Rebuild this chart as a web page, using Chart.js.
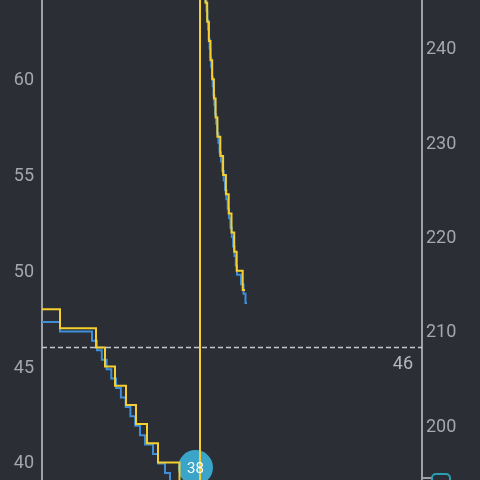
<!DOCTYPE html>
<html><head><meta charset="utf-8">
<script src="https://cdn.jsdelivr.net/npm/chart.js@4.4.1/dist/chart.umd.min.js"></script>
<style>
html,body{margin:0;padding:0;background:#2b2e34;width:480px;height:480px;overflow:hidden}
#wrap{position:relative;width:480px;height:480px}
canvas{display:block}
</style></head><body><div id="wrap"><canvas id="c" width="480" height="480"></canvas></div>
<script>
// time (x) of each level change, and the level that starts there
const yellowTime  = [0, 18, 54, 63, 73, 84, 94, 105, 116, 137.5, 148, 158, 161, 163.5, 165.2, 166.9, 168.5, 170.2, 171.9, 173.6, 175.4, 178.3, 181.1, 183.9, 186.7, 189.5, 192.2, 194.7, 200.7, 203];
const yellowValue = [48, 47, 46, 45, 44, 43, 42, 41, 40, 39, 38, 66, 65, 64, 63, 62, 61, 60, 59, 58, 57, 56, 55, 54, 53, 52, 51, 50, 49, 49];

const blueTime  = [0, 18, 50, 55, 59.8, 64.6, 69.3, 74.1, 78.9, 83.7, 88.4, 93.2, 98, 103, 111, 116, 123, 128, 134, 141, 148,
                   158, 161, 162.5, 163.6, 164.5, 165.3, 166, 166.8, 167.6, 168.4, 169.2, 170, 170.7, 171.6, 172.4, 173.2, 174.2, 175.2,
                   176.4, 177.6, 179, 180.3, 181.7, 183, 184.4, 185.7, 187.1, 188.4, 189.8, 191.1, 192.5, 193.8, 195, 199, 201.5, 203.5, 205];
const blueValue = [211, 210, 209, 208, 207, 206, 205, 204, 203, 202, 201, 200, 199, 198, 197, 196, 195, 194, 193, 192, 191,
                   248, 247, 246, 245, 244, 243, 242, 241, 240, 239, 238, 237, 236, 235, 234, 233, 232, 231,
                   230, 229, 228, 227, 226, 225, 224, 223, 222, 221, 220, 219, 218, 217, 216, 215, 214, 213, 213];

const leftTicks  = [40, 45, 50, 55, 60];
const rightTicks = [200, 210, 220, 230, 240];
const thresholdValue = 46;
const cursorTime = 153.5;
const timeRange  = [0, 380];
const leftRange  = [39.08, 64.14];
const rightRange = [194.25, 245.13];

function cursorValue() {
  let v = yellowValue[0];
  for (let i = 0; i < yellowTime.length; i++) if (yellowTime[i] <= cursorTime) v = yellowValue[i];
  return v;
}

const overlay = {
  id: 'overlay',
  beforeDatasetsDraw(chart) {
    const {ctx, chartArea, scales} = chart;
    const cx = scales.x.getPixelForValue(cursorTime);
    const cy = chartArea.bottom - 12.5;
    ctx.save();
    ctx.fillStyle = '#3aa5c8';
    ctx.beginPath(); ctx.arc(cx, cy, 17.5, 0, Math.PI * 2); ctx.fill();
    ctx.restore();
  },
  afterDatasetsDraw(chart) {
    const {ctx, chartArea, scales} = chart;
    ctx.save();
    const ty = scales.yL.getPixelForValue(thresholdValue);
    ctx.font = '18px Roboto';
    ctx.fillStyle = '#b4b7bc';
    ctx.textAlign = 'right';
    ctx.textBaseline = 'middle';
    ctx.fillText(String(thresholdValue), chartArea.right - 9, ty + 17.5);

    const cx = scales.x.getPixelForValue(cursorTime);
    const cy = chartArea.bottom - 12.5;
    ctx.font = '15px Roboto';
    ctx.fillStyle = '#ffffff';
    ctx.textAlign = 'center';
    ctx.fillText(String(cursorValue()), cx, cy + 2);

    // right-axis badge, cut by the bottom edge
    ctx.strokeStyle = '#9ea2a8';
    ctx.lineWidth = 2;
    ctx.beginPath(); ctx.moveTo(chartArea.right, chartArea.bottom - 2); ctx.lineTo(chartArea.right + 10, chartArea.bottom - 2); ctx.stroke();
    ctx.strokeStyle = '#2a9fb3';
    ctx.fillStyle = '#2b2e34';
    ctx.beginPath();
    ctx.roundRect(chartArea.right + 10, chartArea.bottom - 6, 18, 20, 4);
    ctx.fill(); ctx.stroke();
    ctx.restore();
  }
};

const axisFont = {family: 'Roboto', size: 18};

new Chart(document.getElementById('c'), {
  type: 'line',
  data: {
    datasets: [
      {data: yellowTime.map((t, i) => ({x: t, y: yellowValue[i]})), yAxisID: 'yL',
       borderColor: '#f4cf2f', borderWidth: 2, stepped: true, pointRadius: 0, fill: false},
      {data: blueTime.map((t, i) => ({x: t, y: blueValue[i]})), yAxisID: 'yR',
       borderColor: '#3f8fd8', borderWidth: 2, stepped: true, pointRadius: 0, fill: false},
      {data: [{x: timeRange[0], y: thresholdValue}, {x: timeRange[1], y: thresholdValue}], yAxisID: 'yL',
       borderColor: '#c3c6cb', borderWidth: 1.5, borderDash: [5, 3], pointRadius: 0, fill: false}
    ]
  },
  options: {
    responsive: false, animation: false, events: [],
    layout: {padding: 0},
    plugins: {legend: {display: false}, tooltip: {enabled: false}},
    scales: {
      x: {type: 'linear', min: timeRange[0], max: timeRange[1], display: false},
      yL: {
        type: 'linear', position: 'left', min: leftRange[0], max: leftRange[1],
        afterBuildTicks: s => { s.ticks = leftTicks.map(v => ({value: v})); },
        afterFit: s => { s.width = 42; s.paddingTop = 0; s.paddingBottom = 0; },
        grid: {display: false, drawTicks: false},
        border: {display: true, color: '#9ea2a8', width: 2},
        ticks: {color: '#a4a7ad', font: axisFont, padding: 8, labelOffset: 1.5}
      },
      yR: {
        type: 'linear', position: 'right', min: rightRange[0], max: rightRange[1],
        afterBuildTicks: s => { s.ticks = rightTicks.map(v => ({value: v})); },
        afterFit: s => { s.width = 58; s.paddingTop = 0; s.paddingBottom = 0; },
        grid: {display: false, drawTicks: false},
        border: {display: true, color: '#9ea2a8', width: 2},
        ticks: {color: '#a4a7ad', font: axisFont, padding: 4, labelOffset: 1.5}
      }
    }
  },
  plugins: [overlay]
});
</script></body></html>
